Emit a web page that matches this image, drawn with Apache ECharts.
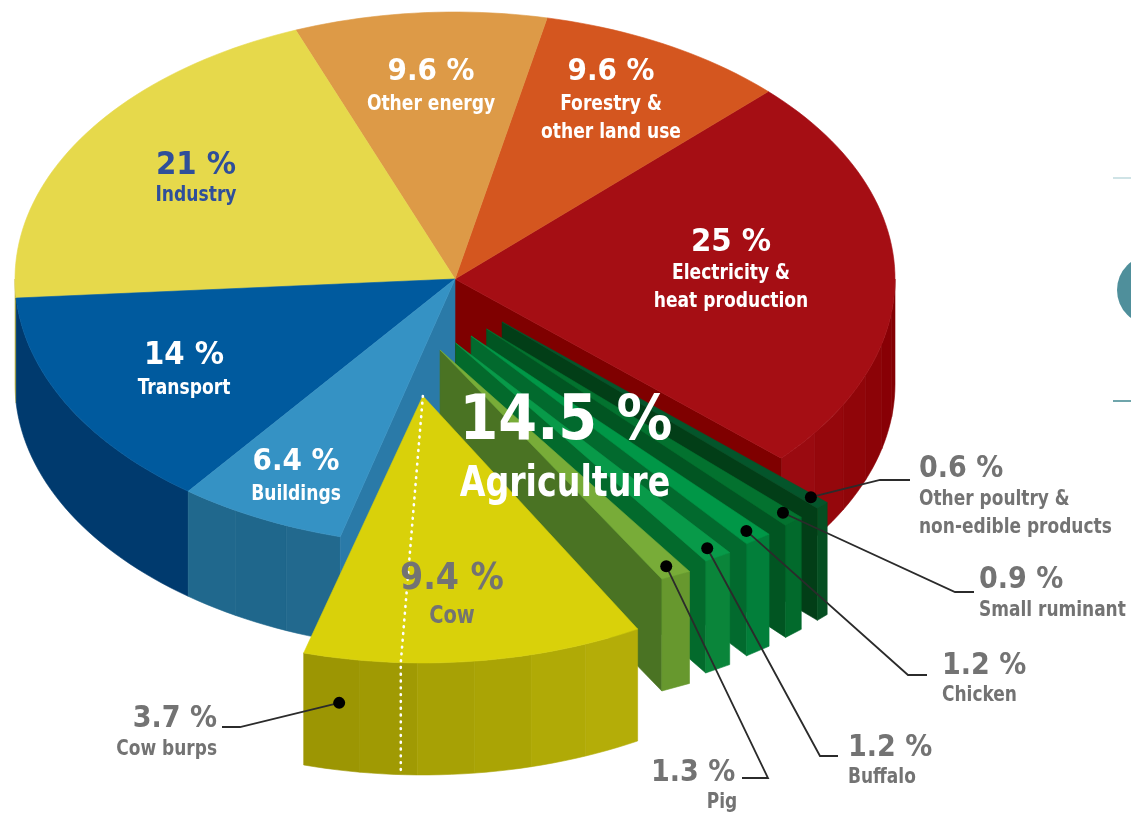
<!DOCTYPE html>
<html>
<head>
<meta charset="utf-8">
<title>Greenhouse gas emissions by sector</title>
<style>
  html, body { margin: 0; padding: 0; background: #fff; }
  #chart { width: 1131px; height: 816px; }
</style>
<script src="https://cdn.jsdelivr.net/npm/echarts@6/dist/echarts.min.js"></script>
</head>
<body>
<div id="chart"></div>
<script>
// ---- data: share of emissions in percent ----
const sectorNames  = ['Electricity &\nheat production', 'Forestry &\nother land use', 'Other energy', 'Industry', 'Transport', 'Buildings'];
const sectorValues = [25, 9.6, 9.6, 21, 14, 6.4];
const agricultureName = 'Agriculture';
const agricultureValue = 14.5;
const cowName = 'Cow';
const cowValue = 9.4;
const cowBurpsName = 'Cow burps';
const cowBurpsValue = 3.7;
const livestockNames  = ['Other poultry &\nnon-edible products', 'Small ruminant', 'Chicken', 'Buffalo', 'Pig'];
const livestockValues = [0.6, 0.9, 1.2, 1.2, 1.3];

// ---- drawing scales ----
const DEG_PER_PCT = 3.47;          // main ring
const COW_REST_DEG_PER_PCT = 5.63; // the cow wedge is opened up so its label fits
const SLAT_DEG_PER_PCT = 2.5;      // livestock slats
const SLAT_GAP_DEG = 2.4;
const SLAT_RADII = [1.19, 1.19, 1.193, 1.2, 1.218];
const START_DEG = 44.6;
const CAVITY_START_DEG = 315.3;
const PIE_DEPTH = 105;
const CUT_DEPTH = 112;
const COW_ORIGIN = [-0.073, -0.438];
const SLAT_APEX_FIRST = [0.107, -0.161];
const SLAT_APEX_LAST = [-0.034, -0.266];
const LEADER_FRACTION = 0.96;
const LEADER_ACROSS = [0.65, 0.62, 0.5, 0.5, 0.5];

// ---- styles ----
const TOP_COLORS  = ['#a50e14', '#d4561f', '#dd9a47', '#e6d94b', '#005a9e', '#3592c4'];
const WALL_BANDS  = [
  ['#9a0a10', '#95070c', '#900509', '#8c0307', '#880005', '#850004'],
  ['#b04a18'], ['#b98038'], ['#c2b53c'],
  ['#003a6e'],
  ['#20688d', '#1f678c', '#22698e']
];
const CUT_WALL_BUILDINGS = '#2a7aa8';
const CUT_WALL_ELECTRICITY = '#7f0000';
const COW_TOP = '#d9d10a';
const COW_BANDS = ['#9c9603', '#a09a03', '#a7a105', '#aaa405', '#b0aa06', '#b4ad08'];
const SLAT_TOP   = ['#04552b', '#03722f', '#009747', '#089a49', '#78ac38'];
const SLAT_SIDE  = ['#023e17', '#015522', '#026a2e', '#036a2c', '#4a7323'];
const SLAT_FRONT = ['#054f22', '#026a2c', '#027f3a', '#0a853a', '#67982e'];
const GREY = '#737373';
const WHITE = '#ffffff';
const INK_BLUE = '#2f4f9a';
const FONT = '"DejaVu Sans Condensed", "DejaVu Sans", sans-serif';
const NAME_WIDTH = 0.865;  // horizontal squeeze on the sector names

// ---- label placement (page pixels) ----
const sectorLabelAt = [[731, 243, 273], [611, 72, 104], [431, 72, 104], [196, 166, 195], [184, 356, 388], [296, 462, 494]];
const sectorLabelColor = [WHITE, WHITE, WHITE, INK_BLUE, WHITE, WHITE];
const sectorValueSize = [32.5, 31, 31, 32.5, 32.5, 31];
const calloutText = [
  { x: 919, y: 469, sub: 500, align: 'left' },
  { x: 979, y: 580, sub: 611, align: 'left' },
  { x: 942, y: 666, sub: 696, align: 'left' },
  { x: 848, y: 748, sub: 778, align: 'left' },
  { x: 651, y: 773, sub: 803, align: 'left', subX: 722, subAlign: 'center' }
];
const calloutElbows = [
  [[880, 480], [910, 480]],
  [[955, 592], [974, 592]],
  [[908, 675], [927, 675]],
  [[820, 756], [838, 756]],
  [[768, 778], [742, 778]]
];

const rad = d => d * Math.PI / 180;
const unit = (deg, o) => [(o ? o[0] : 0) + Math.cos(rad(deg)), (o ? o[1] : 0) + Math.sin(rad(deg))];
const down = (p, h) => [p[0], p[1] + h];

// Sector spans measured counter-clockwise, electricity ending at START_DEG.
function sectorSpans() {
  const spans = [];
  let end = START_DEG;
  spans.push([end - sectorValues[0] * DEG_PER_PCT, end]);
  for (let i = 1; i < sectorValues.length; i++) {
    const next = end + sectorValues[i] * DEG_PER_PCT;
    spans.push([end, next]);
    end = next;
  }
  return spans;
}
const spans = sectorSpans();
const cowStart = spans[spans.length - 1][1] - 0.6;
const cowBurpsEnd = cowStart + cowBurpsValue * DEG_PER_PCT;
const cowEnd = cowBurpsEnd + (cowValue - cowBurpsValue) * COW_REST_DEG_PER_PCT;

function arcPoints(api, a0, a1, origin) {
  const n = Math.max(2, Math.ceil(Math.abs(a1 - a0) / 1.5));
  const pts = [];
  for (let i = 0; i <= n; i++) pts.push(api.coord(unit(a0 + (a1 - a0) * i / n, origin)));
  return pts;
}
const poly = (points, fill) => ({
  type: 'polygon',
  shape: { points },
  style: { fill, stroke: fill, lineWidth: 0.6 }
});
function wallBands(api, a0, a1, bands, depth, origin) {
  const out = [];
  bands.forEach((c, i) => {
    const s = a0 + (a1 - a0) * i / bands.length;
    const e = a0 + (a1 - a0) * (i + 1) / bands.length;
    const rim = arcPoints(api, s, e, origin);
    out.push(poly(rim.concat(rim.slice().reverse().map(p => down(p, depth))), c));
  });
  return out;
}

// Outer rim wall of the ring, only the part facing the viewer.
function renderWalls(params, api) {
  const i = params.dataIndex;
  const [a0, a1] = spans[i];
  const children = [];
  if (i === 0) {
    children.push(...wallBands(api, a0, 0, WALL_BANDS[i], PIE_DEPTH));
  } else if (a1 > 180) {
    children.push(...wallBands(api, Math.max(a0, 180), a1, WALL_BANDS[i], PIE_DEPTH));
  }
  // Faces exposed where the agriculture wedge was pulled out.
  const c = api.coord([0, 0]);
  if (i === 0) {
    const r = api.coord(unit(a0));
    children.push(poly([c, r, down(r, PIE_DEPTH), down(c, PIE_DEPTH)], CUT_WALL_ELECTRICITY));
  }
  if (i === spans.length - 1) {
    const r = api.coord(unit(a1));
    children.push(poly([c, r, down(r, PIE_DEPTH), down(c, PIE_DEPTH)], CUT_WALL_BUILDINGS));
  }
  return { type: 'group', children };
}

function renderTops(params, api) {
  const i = params.dataIndex;
  const [a0, a1] = spans[i];
  return poly([api.coord([0, 0])].concat(arcPoints(api, a0, a1)), TOP_COLORS[i]);
}

// Angular extent of each livestock slat, walking clockwise from the electricity edge.
function slatGeometry(api, i) {
  let a = CAVITY_START_DEG;
  for (let k = 0; k < i; k++) a -= livestockValues[k] * SLAT_DEG_PER_PCT + SLAT_GAP_DEG;
  const a2 = a - livestockValues[i] * SLAT_DEG_PER_PCT;
  const t = i / (livestockValues.length - 1);
  const apexUnit = [
    SLAT_APEX_FIRST[0] + (SLAT_APEX_LAST[0] - SLAT_APEX_FIRST[0]) * t,
    SLAT_APEX_FIRST[1] + (SLAT_APEX_LAST[1] - SLAT_APEX_FIRST[1]) * t
  ];
  const r = SLAT_RADII[i];
  const outer = d => api.coord([r * Math.cos(rad(d)), r * Math.sin(rad(d))]);
  return { apex: api.coord(apexUnit), right: outer(a), left: outer(a2) };
}
function renderSlat(params, api) {
  const i = params.dataIndex;
  const { apex, left, right } = slatGeometry(api, i);
  return {
    type: 'group',
    children: [
      poly([apex, left, down(left, CUT_DEPTH), down(apex, CUT_DEPTH)], SLAT_SIDE[i]),
      poly([left, right, down(right, CUT_DEPTH), down(left, CUT_DEPTH)], SLAT_FRONT[i]),
      poly([apex, left, right], SLAT_TOP[i])
    ]
  };
}

function renderCow(params, api) {
  const apex = api.coord(COW_ORIGIN);
  const rim = arcPoints(api, cowStart, cowEnd, COW_ORIGIN);
  const tick = api.coord(unit(cowBurpsEnd, COW_ORIGIN));
  const dots = {
    type: 'polyline',
    shape: { points: [apex, tick, down(tick, CUT_DEPTH)] },
    style: { fill: 'none', stroke: '#fff', lineWidth: 2.6, lineDash: [0.8, 6], lineCap: 'round' }
  };
  return {
    type: 'group',
    children: wallBands(api, cowStart, cowEnd, COW_BANDS, CUT_DEPTH, COW_ORIGIN)
      .concat([poly([apex].concat(rim), COW_TOP), dots])
  };
}

const text = (x, y, str, size, color, align, squeeze) => ({
  type: 'text',
  x, y,
  scaleX: squeeze || 1,
  style: {
    x: 0, y: 0, text: str, fill: color, align: align || 'center', verticalAlign: 'middle',
    font: 'bold ' + size + 'px ' + FONT
  }
});
const dot = p => ({ type: 'circle', shape: { cx: p[0], cy: p[1], r: 6 }, style: { fill: '#000' } });
const leader = pts => ({
  type: 'polyline',
  shape: { points: pts },
  style: { fill: 'none', stroke: '#2b2b2b', lineWidth: 1.8 }
});

function renderSectorLabel(params, api) {
  const i = params.dataIndex;
  const [x, y, sub] = sectorLabelAt[i];
  const color = sectorLabelColor[i];
  const kids = [text(x, y, sectorValues[i] + ' %', sectorValueSize[i], color)];
  sectorNames[i].split('\n').forEach((l, k) => kids.push(text(x, sub + k * 28, l, 22, color, 'center', NAME_WIDTH)));
  return { type: 'group', children: kids };
}

function renderCallout(params, api) {
  const i = params.dataIndex;
  const g = slatGeometry(api, i);
  const w = LEADER_ACROSS[i];
  const end = [g.left[0] + (g.right[0] - g.left[0]) * w, g.left[1] + (g.right[1] - g.left[1]) * w];
  const a = [
    g.apex[0] + (end[0] - g.apex[0]) * LEADER_FRACTION,
    g.apex[1] + (end[1] - g.apex[1]) * LEADER_FRACTION
  ];
  const t = calloutText[i];
  const kids = [leader([a].concat(calloutElbows[i])), dot(a), text(t.x, t.y, livestockValues[i] + ' %', 30, GREY, t.align)];
  livestockNames[i].split('\n').forEach((l, k) =>
    kids.push(text(t.subX || t.x, t.sub + k * 28, l, 21, GREY, t.subAlign || t.align, 0.9)));
  return { type: 'group', children: kids };
}

function renderAgricultureLabels(params, api) {
  const burpAngle = cowStart + (cowBurpsEnd - cowStart) * 0.37;
  const p = api.coord(unit(burpAngle, COW_ORIGIN));
  const a = down(p, CUT_DEPTH * 0.4);
  return {
    type: 'group',
    children: [
      text(566, 423, agricultureValue + ' %', 62, WHITE),
      text(565, 485, agricultureName, 42, WHITE, 'center', 0.88),
      text(452, 579, cowValue + ' %', 37, GREY),
      text(452, 617, cowName, 24, GREY, 'center', 0.9),
      leader([a, [240, 727], [222, 727]]),
      dot(a),
      text(217, 719, cowBurpsValue + ' %', 30, GREY, 'right'),
      text(217, 750, cowBurpsName, 21, GREY, 'right', 0.9)
    ]
  };
}

const rows = values => values.map((v, i) => [i, v]);
const layer = (name, data, renderItem, z) => ({
  type: 'custom', name, data, renderItem, z, clip: false, silent: true,
  coordinateSystem: 'cartesian2d', animation: false
});

const chart = echarts.init(document.getElementById('chart'));
chart.setOption({
  animation: false,
  backgroundColor: '#ffffff',
  tooltip: { show: false },
  // Unit-circle axes: the pie's ellipse is simply this grid's non-square scale.
  grid: { left: 15, width: 880, top: 12, height: 534 },
  xAxis: { type: 'value', min: -1, max: 1, show: false },
  yAxis: { type: 'value', min: -1, max: 1, show: false },
  // Cropped pieces of the neighbouring panel at the right edge.
  graphic: [
    { type: 'line', shape: { x1: 1113, y1: 178, x2: 1131, y2: 178 }, style: { stroke: '#cfe3e6', lineWidth: 2 } },
    { type: 'line', shape: { x1: 1113, y1: 401, x2: 1131, y2: 401 }, style: { stroke: '#6fa5ab', lineWidth: 2 } },
    { type: 'circle', shape: { cx: 1152, cy: 290, r: 35 }, style: { fill: '#4f8f9b' } }
  ],
  series: [
    layer('walls', rows(sectorValues), renderWalls, 1),
    layer('tops', rows(sectorValues), renderTops, 2),
    layer('livestock', rows(livestockValues), renderSlat, 3),
    layer('cow', [[0, cowValue]], renderCow, 4),
    layer('sector labels', rows(sectorValues), renderSectorLabel, 5),
    layer('livestock callouts', rows(livestockValues), renderCallout, 6),
    layer('agriculture labels', [[0, agricultureValue]], renderAgricultureLabels, 7)
  ]
});
</script>
</body>
</html>
